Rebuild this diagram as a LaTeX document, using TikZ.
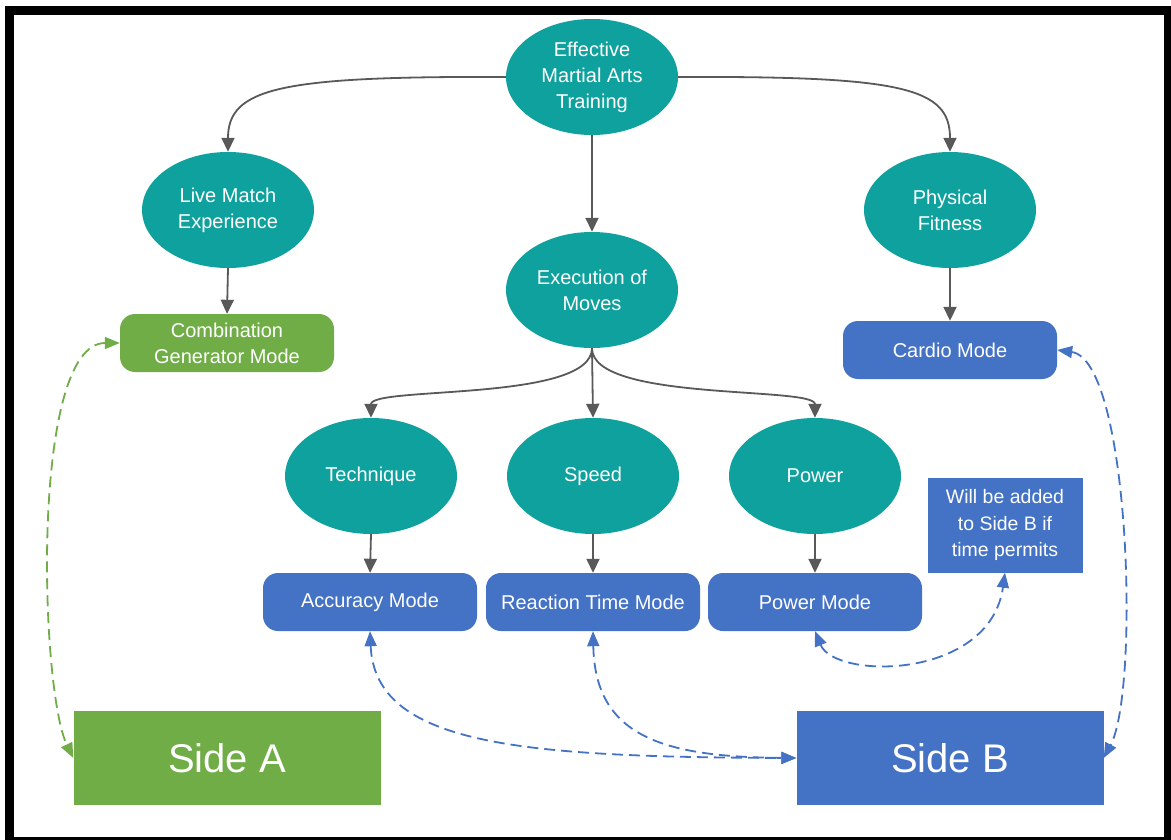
\documentclass[tikz,border=0pt]{standalone}
\usepackage{fontspec}
\setmainfont{Liberation Sans}
\usetikzlibrary{shapes.geometric,arrows.meta}
\definecolor{teal1}{HTML}{0FA19E}
\definecolor{blue1}{HTML}{4472C4}
\definecolor{green1}{HTML}{70AD47}
\definecolor{gray1}{HTML}{595959}
\tikzset{
  oval/.style={ellipse, fill=teal1, draw=none, minimum width=172pt, minimum height=116pt, inner sep=0pt, text=white, align=center, font=\fontsize{20}{26}\selectfont},
  modebox/.style={rectangle, rounded corners=15pt, fill=blue1, minimum width=214pt, minimum height=58pt, inner sep=0pt, text=white, align=center, font=\fontsize{20}{26}\selectfont},
  greenmode/.style={modebox, fill=green1},
  notebox/.style={rectangle, fill=blue1, minimum width=155pt, minimum height=95pt, inner sep=0pt, text=white, align=center, font=\fontsize{19.5}{26.5}\selectfont},
  sidebox/.style={rectangle, minimum width=307pt, minimum height=94pt, inner sep=0pt, text=white, font=\fontsize{40}{48}\selectfont},
  solidarrow/.style={draw=gray1, line width=1.8pt, -{Triangle[length=14pt,width=13pt]}},
  bluedash/.style={draw=blue1, line width=1.8pt, dash pattern=on 11pt off 6pt, {Triangle[length=15pt,width=12pt]}-{Triangle[length=15pt,width=12pt]}},
  greendash/.style={bluedash, draw=green1},
}
\begin{document}
\begin{tikzpicture}[x=1pt,y=-1pt]
\useasboundingbox (0,0) rectangle (1171,840);
\fill[white] (0,0) rectangle (1171,840);
\draw[line width=9pt] (9.5,10.5) rectangle (1168.5,841.5);

\node[oval] (top) at (592,77) {Effective\\Martial Arts\\Training};
\node[oval] (live) at (228,210) {Live Match\\Experience};
\node[oval] (fit) at (950,210) {Physical\\Fitness};
\node[oval] (exec) at (592,290) {Execution of\\Moves};
\node[oval] (tech) at (371,476) {Technique};
\node[oval] (speed) at (593,476) {Speed};
\node[oval] (power) at (815,476) {Power};

\node[greenmode] (comb) at (227,343) {Combination\\Generator Mode};
\node[modebox] (cardio) at (950,350) {Cardio Mode};
\node[modebox] (acc) at (370,602) {Accuracy Mode};
\node[modebox] (rt) at (593,602) {Reaction Time Mode};
\node[modebox] (pm) at (815,602) {Power Mode};
\node[notebox] (note) at (1005,525) {Will be added\\to Side B if\\time permits};

\node[sidebox, fill=green1] (sideA) at (227,758) {Side A};
\node[sidebox, fill=blue1] (sideB) at (950,758) {Side B};

% solid connectors
\draw[solidarrow] (top.west) .. controls (280,76) and (228,88) .. (live.north);
\draw[solidarrow] (top.east) .. controls (904,76) and (950,88) .. (fit.north);
\draw[solidarrow] (top.south) -- (exec.north);
\draw[solidarrow] (live.south) -- (comb.north);
\draw[solidarrow] (fit.south) -- (cardio.north);
\draw[solidarrow] (exec.south) .. controls (592,402) and (371,386) .. (tech.north);
\draw[solidarrow] (exec.south) -- (speed.north);
\draw[solidarrow] (exec.south) .. controls (592,402) and (815,386) .. (power.north);
\draw[solidarrow] (tech.south) -- (acc.north);
\draw[solidarrow] (speed.south) -- (rt.north);
\draw[solidarrow] (power.south) -- (pm.north);

% dashed connectors
\draw[greendash] (comb.west) .. controls (30,343) and (40,690) .. (sideA.west);
\draw[bluedash] (acc.south) .. controls (375,745) and (520,757) .. (sideB.west);
\draw[bluedash] (rt.south) .. controls (595,735) and (660,757) .. (sideB.west);
\draw[bluedash] (pm.south) .. controls (835,680) and (990,680) .. (note.south);
\draw[bluedash] (cardio.east) .. controls (1130,360) and (1140,690) .. (sideB.east);
\end{tikzpicture}
\end{document}
